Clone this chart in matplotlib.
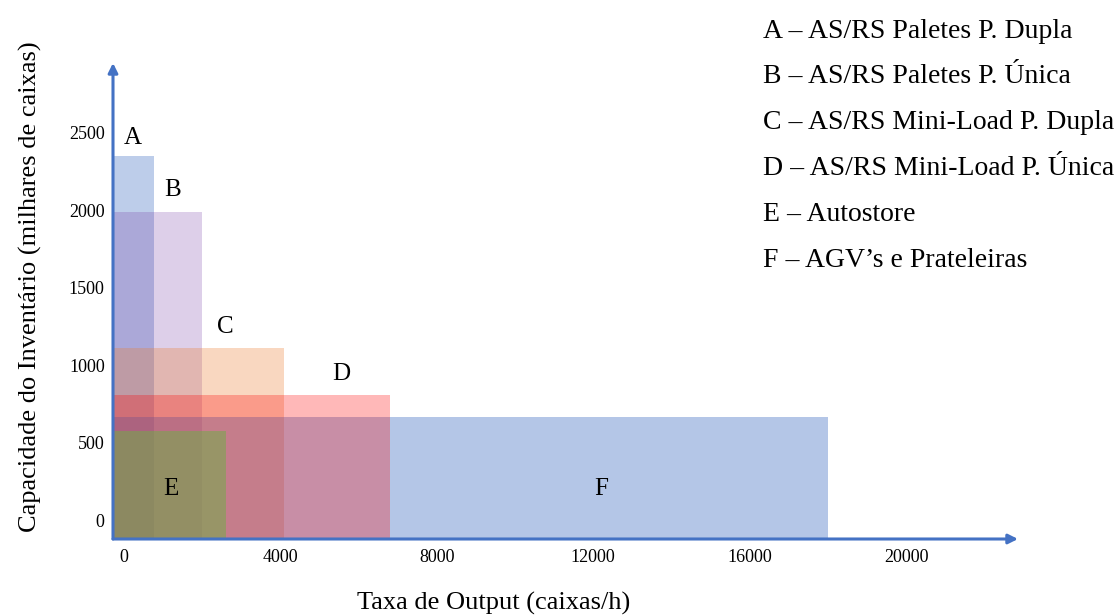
import matplotlib.pyplot as plt
from matplotlib.patches import Rectangle

# Dados
letras = ["A", "B", "C", "D", "E", "F"]
descricoes = ["AS/RS Paletes P. Dupla", "AS/RS Paletes P. Única",
              "AS/RS Mini-Load P. Dupla", "AS/RS Mini-Load P. Única",
              "Autostore", "AGV’s e Prateleiras"]
output_max = [770, 2000, 4100, 6800, 2600, 18000]      # caixas/h
capacidade_max = [2350, 1990, 1110, 810, 575, 670]     # milhares de caixas
xticks = [0, 4000, 8000, 12000, 16000, 20000]
yticks = [0, 500, 1000, 1500, 2000, 2500]

# Posição das letras (coordenadas de dados)
letra_x = [230, 1250, 2580, 5550, 1200, 12200]
letra_y = [2466, 2130, 1246, 943, 202, 202]

# Estilo
cores = {"A": "#4472c4", "B": "#7030a0", "C": "#ed7d31",
         "D": "#ff0000", "E": "#70ad47", "F": "#4472c4"}
alfas = {"A": 0.35, "B": 0.23, "C": 0.30, "D": 0.28, "E": 0.52, "F": 0.40}
ordem = ["A", "B", "C", "F", "D", "E"]
azul = "#4472c4"
plt.rcParams["font.family"] = ["Liberation Serif", "DejaVu Serif"]

fig = plt.figure(figsize=(11.17, 6.15), dpi=100)
ax = fig.add_axes([113 / 1117, 76 / 615, 905 / 1117, 476 / 615])
x0, y0 = -280, -120
ax.set_xlim(x0, 22860)
ax.set_ylim(y0, 2950)

# Retângulos
for l in ordem:
    i = letras.index(l)
    ax.add_patch(Rectangle((x0, y0), output_max[i] - x0, capacidade_max[i] - y0,
                           facecolor=cores[l], alpha=alfas[l], lw=0, zorder=2))

for i, l in enumerate(letras):
    ax.text(letra_x[i], letra_y[i], l, ha="center", va="center",
            fontsize=18, zorder=5)

# Eixos com setas
for s in ax.spines.values():
    s.set_visible(False)
ax.annotate("", xy=(1, 0), xytext=(0, 0), xycoords="axes fraction",
            arrowprops=dict(arrowstyle="-|>", color=azul, lw=2.2,
                            mutation_scale=14, shrinkA=0, shrinkB=0), zorder=6)
ax.annotate("", xy=(0, 1), xytext=(0, 0), xycoords="axes fraction",
            arrowprops=dict(arrowstyle="-|>", color=azul, lw=2.2,
                            mutation_scale=14, shrinkA=0, shrinkB=0), zorder=6)

ax.set_xticks(xticks)
ax.set_xticklabels([str(v) for v in xticks], fontsize=13)
ax.set_yticks(yticks)
ax.set_yticklabels([str(v) for v in yticks], fontsize=13)
ax.tick_params(axis="both", length=0)
ax.tick_params(axis="x", pad=7)
ax.tick_params(axis="y", pad=6)

fig.text(30 / 1117, 1 - 287 / 615, "Capacidade do Inventário (milhares de caixas)",
         rotation=90, ha="center", va="center", fontsize=19)
fig.text(494 / 1117, 1 - 603 / 615, "Taxa de Output (caixas/h)",
         ha="center", va="center", fontsize=19)

# Legenda em texto
for i, l in enumerate(letras):
    fig.text(763 / 1117, 1 - (31 + 45.8 * i) / 615, l + " – " + descricoes[i],
             ha="left", va="center", fontsize=20)

fig.savefig("out.png", dpi=100)
